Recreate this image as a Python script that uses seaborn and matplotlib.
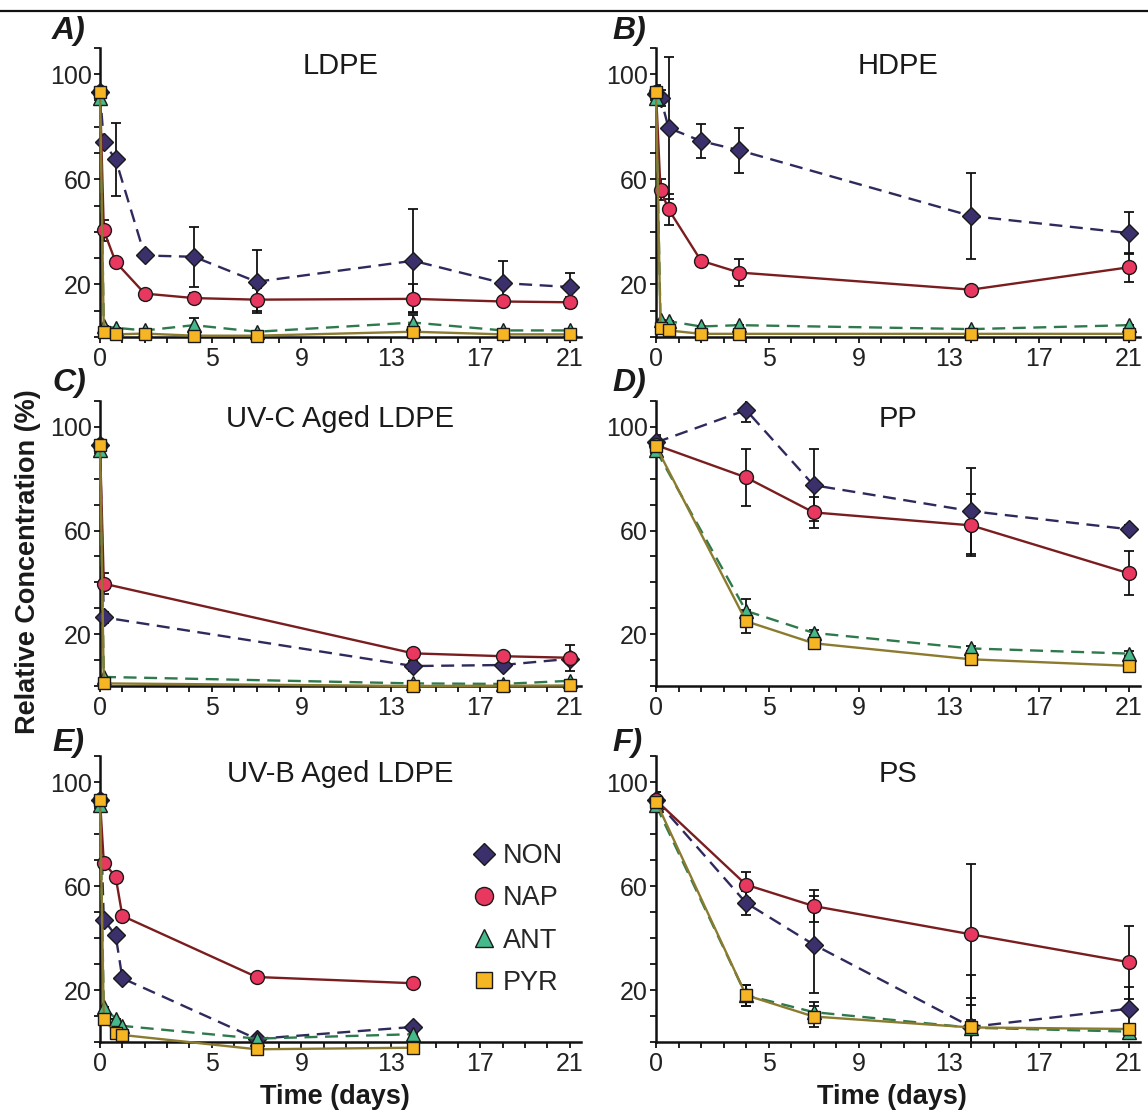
import numpy as np
import pandas as pd
import matplotlib
matplotlib.use("Agg")
import matplotlib.pyplot as plt
from matplotlib.lines import Line2D
import seaborn as sns

sns.set_style("ticks")
plt.rcParams['font.family'] = ['Liberation Sans', 'DejaVu Sans']

# ---------------- data ----------------
compounds = ["NON", "NAP", "ANT", "PYR"]
panel_letters = ["A)", "B)", "C)", "D)", "E)", "F)"]
panel_titles = ["LDPE", "HDPE", "UV-C Aged LDPE", "PP", "UV-B Aged LDPE", "PS"]
x_ticks = [0, 5, 9, 13, 17, 21]
y_ticks = [20, 60, 100]

# A) LDPE
x_A = [0, 0.17, 0.7, 2, 4.2, 7, 14, 18, 21]
NON_A = [93, 74, 67.5, 31, 30.5, 21, 29, 20.5, 19]
NON_A_err = [2, 1, 14, 1, 11.5, 12, 19.5, 8.5, 5.5]
NAP_A = [93, 40.5, 28.5, 16.5, 14.8, 14.2, 14.5, 13.5, 13.2]
NAP_A_err = [2, 4, 1, 1, 2, 4.5, 5.5, 1, 2]
ANT_A = [91, 4, 3.5, 2.5, 4.5, 2, 5.5, 2.5, 2.5]
ANT_A_err = [2, 0, 0, 0, 2.7, 0, 3, 0, 0]
PYR_A = [93, 2, 1, 1.3, 0.5, 0.5, 2, 1, 1]
PYR_A_err = [2, 0, 0, 0, 0, 0, 3, 0, 0]

# B) HDPE
x_B = [0, 0.2, 0.56, 2, 3.7, 14, 21]
NON_B = [92.5, 91, 79.5, 74.5, 71, 46, 39.5]
NON_B_err = [3, 3, 27, 6.5, 8.5, 16.5, 8]
NAP_B = [93, 56, 48.5, 29, 24.5, 18, 26.5]
NAP_B_err = [3, 4, 6, 1, 5, 1, 5.5]
ANT_B = [91, 6.5, 6, 4, 4.5, 3, 4.5]
ANT_B_err = [2, 0, 0, 0, 0, 0, 0]
PYR_B = [93, 3.5, 2.5, 1.2, 1.2, 1.2, 1.2]
PYR_B_err = [2, 0, 0, 0, 0, 0, 0]

# C) UV-C aged LDPE
x_C = [0, 0.17, 14, 18, 21]
NON_C = [93, 26.5, 7.7, 8.1, 10.5]
NON_C_err = [2, 2, 2, 1.5, 1]
NAP_C = [93, 39.5, 12.6, 11.5, 10.9]
NAP_C_err = [2, 4, 1, 1, 5]
ANT_C = [91, 3.5, 1, 0.8, 2]
ANT_C_err = [2, 0, 0, 0, 0]
PYR_C = [93, 1, 0, 0.1, 0.2]
PYR_C_err = [2, 0, 0, 0, 0]

# D) PP
x_D = [0, 4, 7, 14, 21]
NON_D = [94, 106.5, 77.5, 67.5, 60.5]
NON_D_err = [3, 4.5, 14, 16.5, 1.5]
NAP_D = [93, 80.5, 67, 62, 43.5]
NAP_D_err = [3, 11, 6, 12, 8.5]
ANT_D = [91, 29, 20.5, 14.5, 12.5]
ANT_D_err = [2, 4.5, 1, 1, 1]
PYR_D = [92.5, 25, 16.5, 10.3, 7.8]
PYR_D_err = [2, 4.5, 1, 1, 1]

# E) UV-B aged LDPE
x_E = [0, 0.17, 0.7, 1.0, 7, 14]
NON_E = [93, 47, 41, 24.5, 1.2, 5.8]
NON_E_err = [2, 0, 0, 0, 0, 0]
NAP_E = [93, 69, 63.5, 48.5, 25, 22.6]
NAP_E_err = [2, 0, 0, 0, 0, 0]
ANT_E = [91, 13.5, 9, 6.2, 1.3, 3]
ANT_E_err = [2, 0, 0, 0, 0, 0]
PYR_E = [93, 8.8, 3.6, 2.7, -2.8, -2.2]
PYR_E_err = [2, 0, 0, 0, 0, 0]

# F) PS
x_F = [0, 4, 7, 14, 21]
NON_F = [93, 53.5, 37.5, 5.8, 12.8]
NON_F_err = [3, 4.5, 18.5, 20, 8.5]
NAP_F = [93, 60.5, 52.3, 41.4, 30.7]
NAP_F_err = [3, 5, 6, 27, 14]
ANT_F = [91, 18, 11.5, 5.5, 4]
ANT_F_err = [2, 4, 4, 11.5, 1]
PYR_F = [92.5, 18, 9.8, 5.6, 5]
PYR_F_err = [2, 4, 4, 3, 1]

panels = [
    (x_A, [NON_A, NAP_A, ANT_A, PYR_A], [NON_A_err, NAP_A_err, ANT_A_err, PYR_A_err]),
    (x_B, [NON_B, NAP_B, ANT_B, PYR_B], [NON_B_err, NAP_B_err, ANT_B_err, PYR_B_err]),
    (x_C, [NON_C, NAP_C, ANT_C, PYR_C], [NON_C_err, NAP_C_err, ANT_C_err, PYR_C_err]),
    (x_D, [NON_D, NAP_D, ANT_D, PYR_D], [NON_D_err, NAP_D_err, ANT_D_err, PYR_D_err]),
    (x_E, [NON_E, NAP_E, ANT_E, PYR_E], [NON_E_err, NAP_E_err, ANT_E_err, PYR_E_err]),
    (x_F, [NON_F, NAP_F, ANT_F, PYR_F], [NON_F_err, NAP_F_err, ANT_F_err, PYR_F_err]),
]

# ---------------- styles ----------------
styles = {
    "NON": dict(marker="D", ms=8.8, mfc="#3b2f6c", lc="#2e2a5c", ls=(0, (5.5, 3.2))),
    "NAP": dict(marker="o", ms=10.0, mfc="#e8385f", lc="#7a1d1f", ls="-"),
    "ANT": dict(marker="^", ms=10.0, mfc="#45b98a", lc="#2f7a4d", ls=(0, (5.5, 3.2))),
    "PYR": dict(marker="s", ms=9.2, mfc="#f6b523", lc="#8b7b2f", ls="-"),
}

W, H = 1148, 1112
fig = plt.figure(figsize=(W / 100, H / 100), dpi=100)

col_left = [100, 656]
col_width = [481, 484]
row_top = [47.7, 401, 756]
row_bot = [337, 686, 1042]

TICK_FS = 18
axes = []
for i, (xs, ys, errs) in enumerate(panels):
    r, c = divmod(i, 2)
    ax = fig.add_axes([col_left[c] / W, 1 - row_bot[r] / H,
                       col_width[c] / W, (row_bot[r] - row_top[r]) / H])
    axes.append(ax)
    for name, yv, ev in zip(compounds, ys, errs):
        st = styles[name]
        df = pd.DataFrame({"day": xs, "conc": yv})
        ax.errorbar(xs, yv, yerr=ev, fmt="none", ecolor="#111111",
                    elinewidth=1.3, capsize=3.6, capthick=1.3,
                    clip_on=True, zorder=2)
        sns.lineplot(data=df, x="day", y="conc", ax=ax, errorbar=None,
                     color=st["lc"], linestyle=st["ls"], linewidth=1.7,
                     marker=st["marker"], markersize=st["ms"],
                     markerfacecolor=st["mfc"], markeredgecolor="#1a1a1a",
                     markeredgewidth=1.0, clip_on=False, zorder=3)
    ax.set_xlim(0, 21.5)
    ax.set_ylim(0, 110)
    ax.set_xticks(x_ticks)
    ax.set_xticks(range(0, 22), minor=True)
    ax.set_yticks(y_ticks)
    ax.set_yticks([0, 10, 30, 40, 50, 70, 80, 90, 110], minor=True)
    ax.set_xticklabels([str(t) for t in x_ticks])
    ax.set_yticklabels([str(t) for t in y_ticks])
    ax.tick_params(axis="both", which="both", direction="out", length=4.2,
                   width=1.3, color="#111111", labelsize=TICK_FS,
                   labelcolor="#222222")
    ax.tick_params(axis="y", which="both", pad=1.5)
    ax.tick_params(axis="x", which="both", pad=3)
    for s in ["top", "right"]:
        ax.spines[s].set_visible(False)
    for s in ["left", "bottom"]:
        ax.spines[s].set_linewidth(1.8)
        ax.spines[s].set_color("#111111")
    ax.set_xlabel("")
    ax.set_ylabel("")
    ax.text(0.5, 103, panel_titles[i], transform=ax.get_yaxis_transform(),
            ha="center", va="center", fontsize=21, color="#1a1a1a")
    lx = 52 if c == 0 else 612
    ly = [31, 383, 743][r]
    fig.text(lx / W, 1 - ly / H, panel_letters[i], fontsize=23,
             fontweight="bold", fontstyle="italic", ha="left", va="center",
             color="#1a1a1a")

# axis labels
fig.text(28 / W, 1 - 562 / H, "Relative Concentration (%)", rotation=90,
         ha="center", va="center", fontsize=19.5, fontweight="bold",
         color="#1a1a1a")
fig.text(335 / W, 1 - 1097 / H, "Time (days)", ha="center", va="center",
         fontsize=19.5, fontweight="bold", color="#1a1a1a")
fig.text(892 / W, 1 - 1097 / H, "Time (days)", ha="center", va="center",
         fontsize=19.5, fontweight="bold", color="#1a1a1a")

# legend in panel E
handles = []
for name in compounds:
    st = styles[name]
    handles.append(Line2D([], [], linestyle="none", marker=st["marker"],
                          markersize=st["ms"] * 1.3,
                          markerfacecolor=st["mfc"], markeredgecolor="#1a1a1a",
                          markeredgewidth=1.0))
axes[4].legend(handles, compounds, loc="upper left",
               bbox_to_anchor=(470 / W, 1 - 843 / H),
               bbox_transform=fig.transFigure, frameon=False, fontsize=19.5,
               handlelength=1.0, handletextpad=0.2, labelspacing=0.6,
               borderpad=0, borderaxespad=0)

# top rule
fig.add_artist(Line2D([0, 1], [1 - 11 / H, 1 - 11 / H], color="#111111",
                      linewidth=1.6, transform=fig.transFigure))

fig.savefig("out.png", dpi=100)
